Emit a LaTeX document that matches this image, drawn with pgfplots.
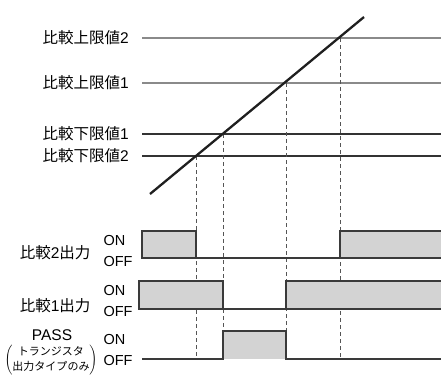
\documentclass[border=0pt]{standalone}
\usepackage{pgfplots}
\pgfplotsset{compat=1.18}
\usepackage{fontspec}
\setmainfont{Liberation Sans}
\newfontfamily\cjk{Noto Sans CJK JP}
\definecolor{fillg}{HTML}{D3D3D3}
\definecolor{edge}{HTML}{3A3A3A}
\definecolor{upr}{HTML}{8A8A8A}
\definecolor{lwr}{HTML}{333333}
\definecolor{dsh}{HTML}{555555}
\begin{document}
\begin{tikzpicture}
\begin{axis}[hide axis, scale only axis, width=441pt, height=376pt,
  xmin=0, xmax=441, ymin=0, ymax=376, y dir=reverse, clip=false]
% threshold lines
\addplot[upr, line width=1.3pt] coordinates {(142,38) (441,38)};
\addplot[upr, line width=1.3pt] coordinates {(142,83) (441,83)};
\addplot[lwr, line width=1.1pt] coordinates {(142,134) (441,134)};
\addplot[lwr, line width=1.1pt] coordinates {(142,156) (441,156)};
% dashed verticals
\addplot[dsh, line width=0.9pt, dash pattern=on 4pt off 3pt] coordinates {(196,156) (196,359)};
\addplot[dsh, line width=0.9pt, dash pattern=on 4pt off 3pt] coordinates {(223,134) (223,359)};
\addplot[dsh, line width=0.9pt, dash pattern=on 4pt off 3pt] coordinates {(286,83) (286,359)};
\addplot[dsh, line width=0.9pt, dash pattern=on 4pt off 3pt] coordinates {(340,38) (340,359)};
% ramp
\addplot[black!88, line width=2.3pt] coordinates {(150,194) (364,17)};
% fills
\addplot[fill=fillg, draw=none] coordinates {(142,231) (196,231) (196,258) (142,258)} -- cycle;
\addplot[fill=fillg, draw=none] coordinates {(340,231) (441,231) (441,258) (340,258)} -- cycle;
\addplot[fill=fillg, draw=none] coordinates {(139,281) (223,281) (223,309) (139,309)} -- cycle;
\addplot[fill=fillg, draw=none] coordinates {(286,281) (441,281) (441,309) (286,309)} -- cycle;
\addplot[fill=fillg, draw=none] coordinates {(223,331) (286,331) (286,359) (223,359)} -- cycle;
% signal traces
\addplot[edge, line width=1.2pt] coordinates {(196,258) (142,258) (142,231) (196,231) (196,258) (340,258) (340,231) (441,231)};
\addplot[edge, line width=1.2pt] coordinates {(340,258) (441,258)};
\addplot[edge, line width=1.2pt] coordinates {(223,309) (139,309) (139,281) (223,281) (223,309) (286,309) (286,281) (441,281)};
\addplot[edge, line width=1.2pt] coordinates {(286,309) (441,309)};
\addplot[edge, line width=1.2pt] coordinates {(142,359) (223,359) (223,331) (286,331) (286,359) (441,359)};
% labels
\node[anchor=west, font=\fontsize{15.5}{16}\selectfont] at (axis cs:39,38) {{\cjk 比較上限値}2};
\node[anchor=west, font=\fontsize{15.5}{16}\selectfont] at (axis cs:39,83) {{\cjk 比較上限値}1};
\node[anchor=west, font=\fontsize{15.5}{16}\selectfont] at (axis cs:39,134) {{\cjk 比較下限値}1};
\node[anchor=west, font=\fontsize{15.5}{16}\selectfont] at (axis cs:39,156) {{\cjk 比較下限値}2};
\node[anchor=east, font=\fontsize{15.5}{16}\selectfont] at (axis cs:94,253) {{\cjk 比較}2{\cjk 出力}};
\node[anchor=east, font=\fontsize{15.5}{16}\selectfont] at (axis cs:94,306) {{\cjk 比較}1{\cjk 出力}};
\node[anchor=west, font=\fontsize{14.5}{15}\selectfont] at (axis cs:100,240) {ON};
\node[anchor=west, font=\fontsize{14.5}{15}\selectfont] at (axis cs:100,261) {OFF};
\node[anchor=west, font=\fontsize{14.5}{15}\selectfont] at (axis cs:100,290) {ON};
\node[anchor=west, font=\fontsize{14.5}{15}\selectfont] at (axis cs:100,311) {OFF};
\node[anchor=west, font=\fontsize{14.5}{15}\selectfont] at (axis cs:100,339) {ON};
\node[anchor=west, font=\fontsize{14.5}{15}\selectfont] at (axis cs:100,360) {OFF};
\node[font=\fontsize{15.5}{16}\selectfont] at (axis cs:52,335) {PASS};
\node[inner sep=0pt] at (axis cs:51,360) {$\left(\vcenter{\hbox{\cjk\fontsize{11}{15}\selectfont\begin{tabular}{@{}c@{}}トランジスタ\\出力タイプのみ\end{tabular}}}\right)$};
\end{axis}
\pgfresetboundingbox
\path[use as bounding box] (0,0) rectangle (441pt,376pt);
\end{tikzpicture}
\end{document}
